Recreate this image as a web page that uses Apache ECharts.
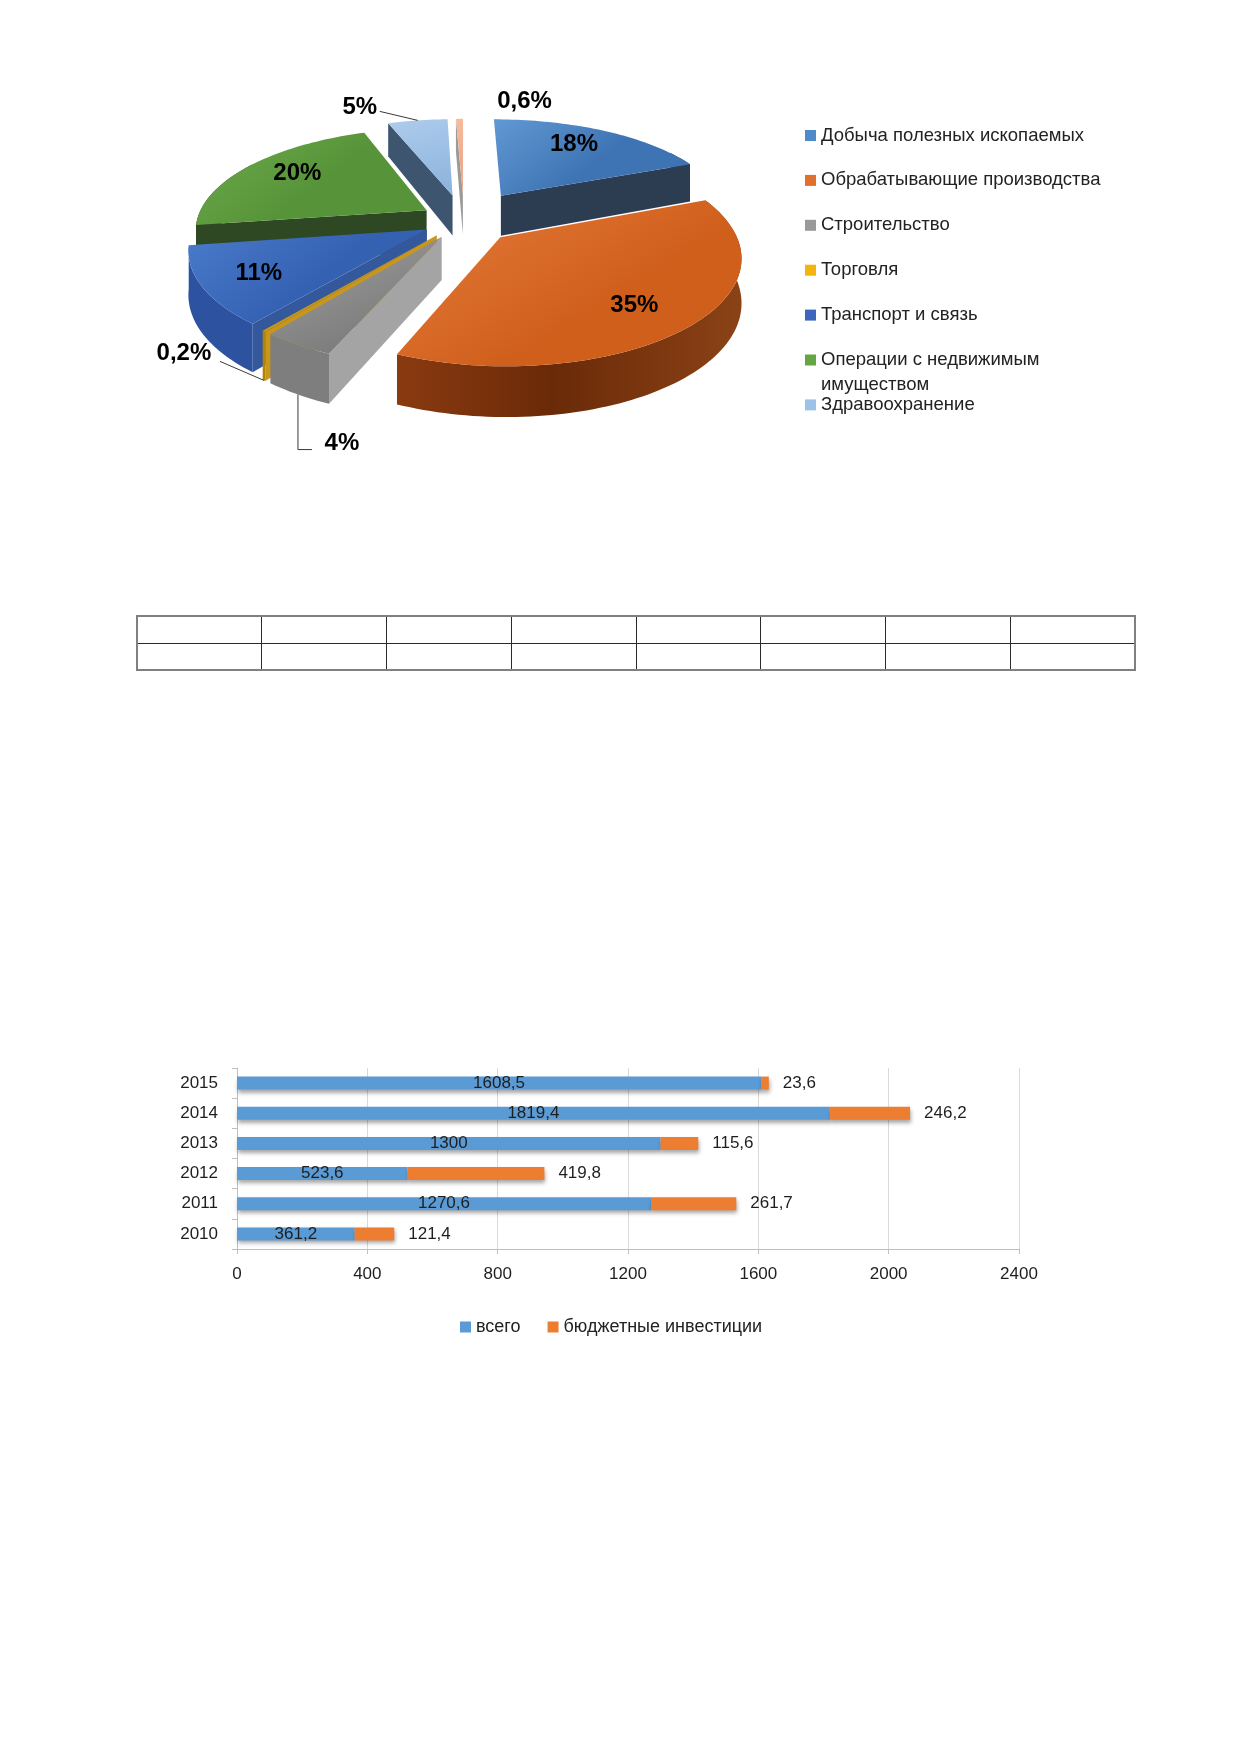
<!DOCTYPE html>
<html>
<head>
<meta charset="utf-8">
<script src="https://cdn.jsdelivr.net/npm/echarts/dist/echarts.min.js"></script>
<style>
  html,body{margin:0;padding:0;background:#fff;}
  #chart{position:absolute;left:0;top:0;width:1239px;height:1752px;}
  #tbl{position:absolute;left:136px;top:615px;width:1000px;height:56px;}
  #tbl table{border-collapse:collapse;width:100%;height:100%;table-layout:fixed;border:2px solid #808080;}
  #tbl td{border:1.5px solid #2a2a2a;padding:0;}
</style>
</head>
<body>
<div id="chart"></div>
<div id="tbl"><table>
<tr><td></td><td></td><td></td><td></td><td></td><td></td><td></td><td></td></tr>
<tr><td></td><td></td><td></td><td></td><td></td><td></td><td></td><td></td></tr>
</table></div>
<script>
// ---------- DATA ----------
const pieNames = ['Добыча полезных ископаемых','Обрабатывающие производства','Строительство','Торговля','Транспорт и связь','Операции с недвижимым\nимуществом','Здравоохранение',''];
const pieValues = [18, 35, 4, 0.2, 11, 20, 5, 0.6];

const years = ['2010','2011','2012','2013','2014','2015'];
const totalInv = [361.2, 1270.6, 523.6, 1300, 1819.4, 1608.5];
const budgetInv = [121.4, 261.7, 419.8, 115.6, 246.2, 23.6];
const barSeriesNames = ['всего','бюджетные инвестиции'];
const xMin = 0, xMax = 2400, xStep = 400;

// ---------- STYLE ----------
const FONT = "'Liberation Sans', Arial, sans-serif";
const PIE = {cx:464, cy:220, R:230, t:0.4535, p:0.18, D:42};
const explode = [68, 51, 42, 42, 42, 44, 58, 58];
const topGrad = [
  ['#6199D3','#3E74B4'],['#E67C3C','#D05F1C'],['#A0A0A0','#7E7E7E'],['#E2AE22','#C48E12'],
  ['#4A7BCB','#3561B3'],['#6EAA4C','#579338'],['#ADCCEC','#8FB5DE'],['#F5BC9E','#EC9E7E']];
const wallCol = ['#2F4158','#7C3611','#7E7E7E','#B0820E','#2D52A0','#2E4A24','#41587A','#8C8C8C'];
const sideCol = ['#2C3D52','#8A3E14','#A4A4A4','#C8961A','#34589C','#2E4823','#3E5570','#9A9A9A'];
const legendColors = ['#4F8BCB','#E2702C','#999999','#F2B50F','#3D67BE','#65A543','#9DC2E8'];
const labelLayout = [
  {mode:'in', dx:4, dy:-6},
  {mode:'in', dx:16, dy:12},
  {mode:'out', anchor:1, dx:44, dy:49, leader:[[0,0],[0,55],[14,55]]},
  {mode:'out', anchor:1, dx:-80, dy:-27, leader:[[0,0],[-44,-19]]},
  {mode:'in', dx:-26, dy:8},
  {mode:'in', dx:-12, dy:-6},
  {mode:'out', anchor:0, dx:-58, dy:-13, leader:[[0,0],[-38,-9]]},
  {mode:'out', anchor:0, dx:65, dy:-17, leader:null}
];

// ---------- PIE GEOMETRY ----------
const total = pieValues.reduce((a,b)=>a+b,0);
const angles = []; let acc = 0;
pieValues.forEach(v => { const a = acc/total*360; acc += v; angles.push([a, acc/total*360]); });
const rad = d => d*Math.PI/180;
function P(e, m, r, th, h){
  const u = e*Math.sin(rad(m)) + r*Math.sin(rad(th));
  const v = -e*Math.cos(rad(m)) - r*Math.cos(rad(th));
  const s = 1 + PIE.p*v/PIE.R;
  return [PIE.cx + u*s, PIE.cy + v*PIE.t*s + h*PIE.D*s, v];
}
function arc(e, m, a, b, h){
  const pts = []; const n = Math.max(2, Math.ceil((b-a)/1.5));
  for (let k=0;k<=n;k++){ pts.push(P(e, m, PIE.R, a+(b-a)*k/n, h)); }
  return pts;
}
const xy = pts => pts.map(p => [p[0], p[1]]);
const fmtPct = v => String(v).replace('.', ',') + '%';

function renderSides(params, api){
  const i = params.dataIndex; const a = angles[i][0], b = angles[i][1];
  const m = (a+b)/2, e = explode[i];
  const ch = [];
  const aT = P(e,m,0,0,0), aB = P(e,m,0,0,1);
  const a2 = Math.max(a, 60), b2 = Math.min(b, 300);
  if (b2 > a2){
    const top = arc(e,m,a2,b2,0), bot = arc(e,m,a2,b2,1).reverse();
    const vm = P(e,m,PIE.R,(a2+b2)/2,0)[2];
    let fill = wallCol[i];
    if (i === 1) fill = new echarts.graphic.LinearGradient(0,0,1,0,[{offset:0,color:'#8A3A10'},{offset:0.45,color:'#6A2A08'},{offset:1,color:'#8B4216'}]);
    ch.push({type:'polygon', z2: 1000+Math.round(vm), shape:{points: xy(top.concat(bot))}, style:{fill: fill}});
  }
  if (Math.sin(rad(a)) < -0.01){
    const rt = P(e,m,PIE.R,a,0), rb = P(e,m,PIE.R,a,1);
    ch.push({type:'polygon', z2: 1000+Math.round((rt[2]+aT[2])/2), shape:{points: xy([aT,rt,rb,aB])}, style:{fill: sideCol[i]}});
  }
  if (Math.sin(rad(b)) > 0.01){
    const rt = P(e,m,PIE.R,b,0), rb = P(e,m,PIE.R,b,1);
    ch.push({type:'polygon', z2: 1000+Math.round((rt[2]+aT[2])/2), shape:{points: xy([aT,rt,rb,aB])}, style:{fill: sideCol[i]}});
  }
  return {type:'group', children: ch};
}

function renderTops(params, api){
  const i = params.dataIndex; const a = angles[i][0], b = angles[i][1];
  const m = (a+b)/2, e = explode[i];
  const ch = [];
  const aT = P(e,m,0,0,0);
  const pts = [aT].concat(arc(e,m,a,b,0));
  ch.push({type:'polygon', z2: 10, shape:{points: xy(pts)},
    style:{fill: new echarts.graphic.LinearGradient(0,0,0.3,1,[{offset:0,color:topGrad[i][0]},{offset:1,color:topGrad[i][1]}])}});
  const L = labelLayout[i];
  let lx, ly;
  if (L.mode === 'in'){
    const c = P(e,m,0.65*PIE.R,m,0); lx = c[0]+L.dx; ly = c[1]+L.dy;
  } else {
    const c = P(e,m,PIE.R,m,L.anchor); lx = c[0]+L.dx; ly = c[1]+L.dy;
    if (L.leader){
      ch.push({type:'polyline', z2: 50, shape:{points: L.leader.map(q=>[c[0]+q[0], c[1]+q[1]])}, style:{stroke:'#3a3a3a', lineWidth:1, fill:null}});
    }
  }
  ch.push({type:'text', z2: 100, x: lx, y: ly, style:{text: fmtPct(api.value(0)), fontSize:24, fontWeight:'bold', fontFamily: FONT, fill:'#000', align:'center', verticalAlign:'middle'}});
  return {type:'group', children: ch};
}

// ---------- PIE LEGEND (graphic) ----------
const legendGraphic = [];
for (let i=0;i<7;i++){
  const yc = 135.5 + 44.9*i;
  legendGraphic.push({type:'rect', shape:{x:805, y:yc-5.5, width:11, height:11}, style:{fill: legendColors[i]}});
  legendGraphic.push({type:'text', x:821, y:yc-12.5, style:{text: pieNames[i], fontSize:18.5, fontFamily: FONT, fill:'#222', verticalAlign:'top', lineHeight:25}});
}

const fmtNum = v => String(v).replace('.', ',');

const chart = echarts.init(document.getElementById('chart'), null, {renderer:'canvas', width:1239, height:1752});
chart.setOption({
  animation: false,
  backgroundColor: '#fff',
  graphic: legendGraphic,
  grid: {left:237, top:1068, width:782, height:181},
  legend: {data: barSeriesNames, left:455, top:1313, itemWidth:11, itemHeight:11, itemGap:27, icon:'rect', selectedMode:false,
    textStyle:{fontSize:18, fontFamily: FONT, color:'#222'}},
  xAxis: {type:'value', min:xMin, max:xMax, interval:xStep,
    axisLine:{show:true, lineStyle:{color:'#BFBFBF'}}, axisTick:{show:true, length:5, lineStyle:{color:'#BFBFBF'}},
    splitLine:{show:true, lineStyle:{color:'#D9D9D9'}},
    axisLabel:{fontSize:17, fontFamily: FONT, color:'#1e1e1e', margin:17, formatter: v => String(v)}},
  yAxis: {type:'category', data: years,
    axisLine:{show:true, lineStyle:{color:'#BFBFBF'}}, axisTick:{show:true, length:5, lineStyle:{color:'#BFBFBF'}},
    axisLabel:{fontSize:17, fontFamily: FONT, color:'#1e1e1e', margin:19}},
  series: [
    {name: barSeriesNames[0], type:'bar', stack:'s', data: totalInv, barWidth:13,
      itemStyle:{color:'#5B9BD5', shadowColor:'rgba(0,0,0,0.35)', shadowBlur:4, shadowOffsetY:3, shadowOffsetX:1},
      label:{show:true, position:'inside', formatter: p => fmtNum(p.value), fontSize:17, fontFamily: FONT, color:'#1e1e1e'}},
    {name: barSeriesNames[1], type:'bar', stack:'s', data: budgetInv, barWidth:13,
      itemStyle:{color:'#ED7D31', shadowColor:'rgba(0,0,0,0.35)', shadowBlur:4, shadowOffsetY:3, shadowOffsetX:1},
      label:{show:true, position:'right', distance:14, formatter: p => fmtNum(p.value), fontSize:17, fontFamily: FONT, color:'#1e1e1e'}},
    {type:'custom', coordinateSystem:'none', silent:true, z:2, renderItem: renderSides, data: pieValues.map((v,i)=>[v,i])},
    {type:'custom', coordinateSystem:'none', silent:true, z:3, renderItem: renderTops, data: pieValues.map((v,i)=>[v,i])}
  ]
});
</script>
</body>
</html>
